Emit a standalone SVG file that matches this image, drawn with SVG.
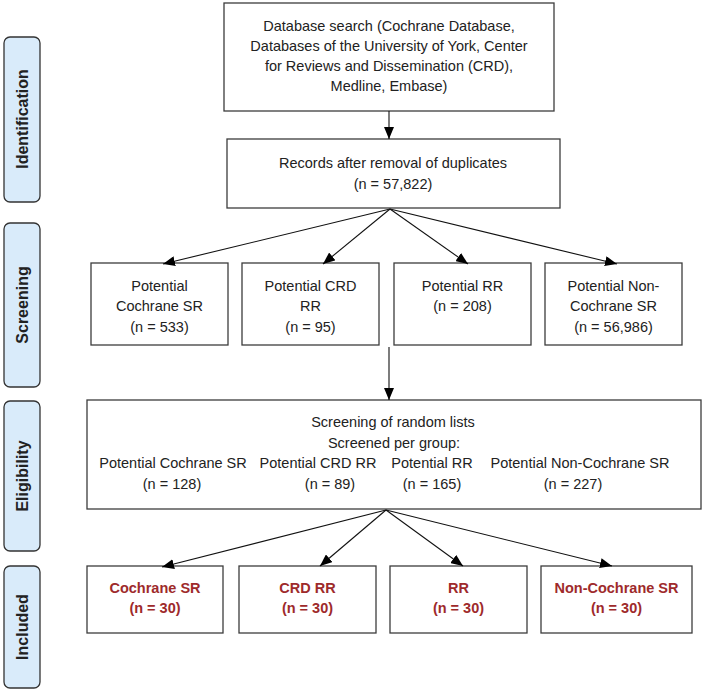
<svg xmlns="http://www.w3.org/2000/svg" width="704" height="691" viewBox="0 0 704 691">
<style>
.box{fill:#fff;stroke:#3c3c3c;stroke-width:1.3}
.side{fill:#d9ebfa;stroke:#333;stroke-width:1.3}
.t{font-family:"Liberation Sans",Arial,sans-serif;font-size:14.5px;fill:#222;text-anchor:middle}
.r{font-family:"Liberation Sans",Arial,sans-serif;font-size:14.5px;font-weight:bold;fill:#9e2a2b;text-anchor:middle}
.s{font-family:"Liberation Sans",Arial,sans-serif;font-size:16px;font-weight:bold;fill:#222;text-anchor:middle}
.c{stroke:#111;stroke-width:1.1;fill:none;marker-end:url(#ah)}
</style>
<defs>
<marker id="ah" viewBox="0 0 12 10" refX="12" refY="5" markerWidth="12" markerHeight="10" markerUnits="userSpaceOnUse" orient="auto">
<path d="M0,0 L12,5 L0,10 Z" fill="#000"/>
</marker>
</defs>
<rect width="704" height="691" fill="#fff"/>
<g id="side-identification"><rect class="side" x="4" y="37" width="36" height="165" rx="6"/><text class="s" transform="translate(28,119) rotate(-90)">Identification</text></g>
<g id="side-screening"><rect class="side" x="4" y="223" width="36" height="164" rx="6"/><text class="s" transform="translate(28,305) rotate(-90)">Screening</text></g>
<g id="side-eligibility"><rect class="side" x="4" y="401" width="36" height="150" rx="6"/><text class="s" transform="translate(28,476) rotate(-90)">Eligibility</text></g>
<g id="side-included"><rect class="side" x="4" y="566" width="36" height="122" rx="6"/><text class="s" transform="translate(28,627) rotate(-90)">Included</text></g>

<g id="database-search"><rect class="box" x="224" y="3" width="330" height="108"/>
<text class="t" x="389" y="31">Database search (Cochrane Database,</text>
<text class="t" x="389" y="51">Databases of the University of York, Center</text>
<text class="t" x="389" y="71">for Reviews and Dissemination (CRD),</text>
<text class="t" x="389" y="91">Medline, Embase)</text></g>

<g id="records"><rect class="box" x="227" y="139" width="333" height="69"/>
<text class="t" x="393" y="168">Records after removal of duplicates</text>
<text class="t" x="393" y="189">(n = 57,822)</text></g>

<g id="pot-cochrane"><rect class="box" x="91" y="263" width="137" height="82"/>
<text class="t" x="159.5" y="291">Potential</text><text class="t" x="159.5" y="311">Cochrane SR</text><text class="t" x="159.5" y="332">(n = 533)</text></g>
<g id="pot-crd"><rect class="box" x="242" y="263" width="137" height="82"/>
<text class="t" x="310.5" y="291">Potential CRD</text><text class="t" x="310.5" y="311">RR</text><text class="t" x="310.5" y="332">(n = 95)</text></g>
<g id="pot-rr"><rect class="box" x="394" y="263" width="137" height="82"/>
<text class="t" x="462.5" y="291">Potential RR</text><text class="t" x="462.5" y="311">(n = 208)</text></g>
<g id="pot-noncochrane"><rect class="box" x="545" y="263" width="137" height="82"/>
<text class="t" x="613.5" y="291">Potential Non-</text><text class="t" x="613.5" y="311">Cochrane SR</text><text class="t" x="613.5" y="332">(n = 56,986)</text></g>

<g id="eligibility-screen"><rect class="box" x="87" y="400" width="614" height="109"/>
<text class="t" x="393" y="427">Screening of random lists</text>
<text class="t" x="394" y="448">Screened per group:</text>
<text class="t" x="173" y="468">Potential Cochrane SR</text>
<text class="t" x="318" y="468">Potential CRD RR</text>
<text class="t" x="432" y="468">Potential RR</text>
<text class="t" x="580" y="468">Potential Non-Cochrane SR</text>
<text class="t" x="172" y="489">(n = 128)</text>
<text class="t" x="330" y="489">(n = 89)</text>
<text class="t" x="432" y="489">(n = 165)</text>
<text class="t" x="573" y="489">(n = 227)</text></g>

<g id="inc-cochrane"><rect class="box" x="87" y="566" width="136" height="67"/>
<text class="r" x="155" y="593">Cochrane SR</text><text class="r" x="155" y="613">(n = 30)</text></g>
<g id="inc-crd"><rect class="box" x="239" y="566" width="137" height="67"/>
<text class="r" x="307.5" y="593">CRD RR</text><text class="r" x="307.5" y="613">(n = 30)</text></g>
<g id="inc-rr"><rect class="box" x="390" y="566" width="137" height="67"/>
<text class="r" x="458.5" y="593">RR</text><text class="r" x="458.5" y="613">(n = 30)</text></g>
<g id="inc-noncochrane"><rect class="box" x="541" y="566" width="151" height="67"/>
<text class="r" x="616.5" y="593">Non-Cochrane SR</text><text class="r" x="616.5" y="613">(n = 30)</text></g>

<g id="connectors">
<line class="c" x1="389" y1="111" x2="389" y2="139"/>
<line class="c" x1="390" y1="209" x2="163" y2="264"/>
<line class="c" x1="390" y1="209" x2="323" y2="264"/>
<line class="c" x1="390" y1="209" x2="468" y2="264"/>
<line class="c" x1="390" y1="209" x2="617" y2="264"/>
<line class="c" x1="389" y1="347" x2="389" y2="400"/>
<line class="c" x1="386" y1="510" x2="162" y2="567"/>
<line class="c" x1="386" y1="510" x2="320" y2="566"/>
<line class="c" x1="386" y1="510" x2="463" y2="566"/>
<line class="c" x1="386" y1="510" x2="612" y2="566"/>
</g>
</svg>
